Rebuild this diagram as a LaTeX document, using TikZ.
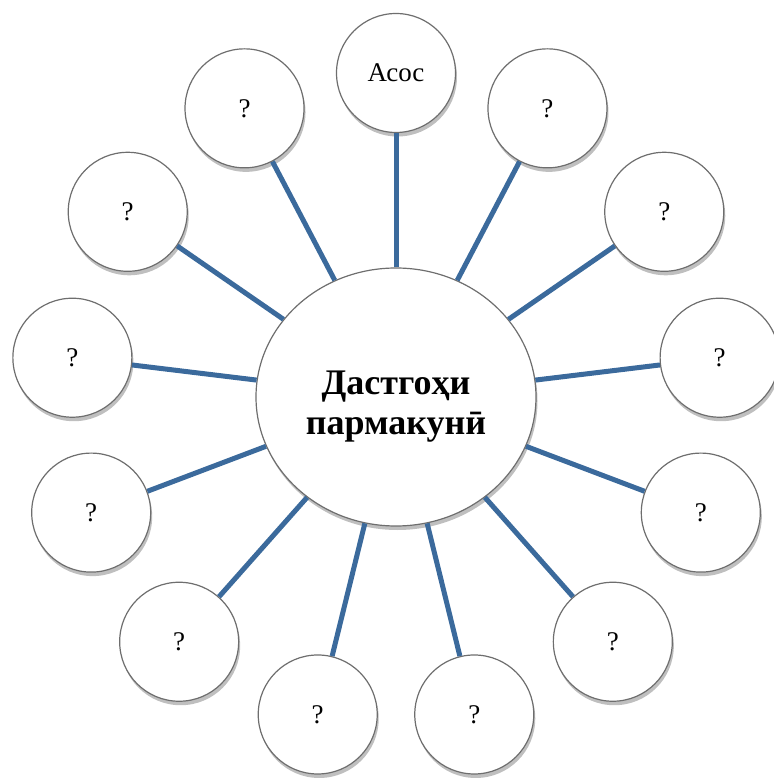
\documentclass[tikz,border=0pt]{standalone}
\usepackage{fontspec}
\setmainfont{Liberation Serif}
\usepackage{xcolor}
\usepackage{tikz}
\usetikzlibrary{shapes.geometric, shadows}
\definecolor{spokeblue}{HTML}{3B6A9C}
\definecolor{rimgray}{HTML}{6E6E6E}

\begin{document}
\begin{tikzpicture}[
    x=1pt, y=1pt,
    every node/.style={fill=white, draw=rimgray, line width=1.2pt, align=center,
        drop shadow={shadow xshift=1.5pt, shadow yshift=-4pt, opacity=0.25, fill=black}},
    leaf/.style={circle, minimum size=119pt, inner sep=0pt, font=\fontsize{27}{32}\selectfont},
    hub/.style={ellipse, minimum width=280pt, minimum height=258pt, inner sep=0pt,
        font=\fontsize{36}{40}\selectfont\bfseries},
    spoke/.style={line width=5pt, color=spokeblue}
]
\useasboundingbox (-396,-381) rectangle (377,397);

\node (center) [hub] at (0,0)
    {\begin{tabular}{@{}c@{}}\rule{0pt}{48pt}Дастгоҳи\\пармакунӣ\end{tabular}};

\node (asos) [leaf] at (90:324) {Асос};
\node (q1)  [leaf] at (117.69:326) {?};
\node (q2)  [leaf] at (145.38:326) {?};
\node (q3)  [leaf] at (173.08:326) {?};
\node (q4)  [leaf] at (200.77:326) {?};
\node (q5)  [leaf] at (228.46:327) {?};
\node (q6)  [leaf] at (256.15:327) {?};
\node (q7)  [leaf] at (283.85:327) {?};
\node (q8)  [leaf] at (311.54:327) {?};
\node (q9)  [leaf] at (339.23:326) {?};
\node (q10) [leaf] at (6.92:326) {?};
\node (q11) [leaf] at (34.62:326) {?};
\node (q12) [leaf] at (62.31:326) {?};

\draw[spoke] (center) -- (asos);
\draw[spoke] (center) -- (q1);
\draw[spoke] (center) -- (q2);
\draw[spoke] (center) -- (q3);
\draw[spoke] (center) -- (q4);
\draw[spoke] (center) -- (q5);
\draw[spoke] (center) -- (q6);
\draw[spoke] (center) -- (q7);
\draw[spoke] (center) -- (q8);
\draw[spoke] (center) -- (q9);
\draw[spoke] (center) -- (q10);
\draw[spoke] (center) -- (q11);
\draw[spoke] (center) -- (q12);
\end{tikzpicture}
\end{document}
